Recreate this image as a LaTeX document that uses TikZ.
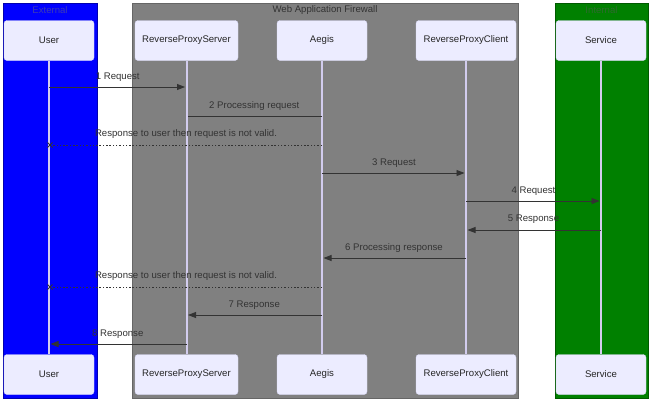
\documentclass[tikz,border=0pt]{standalone}
\usepackage{fontspec}
\setmainfont{Liberation Sans}
\usetikzlibrary{arrows.meta}
\definecolor{actfill}{HTML}{ECECFF}
\definecolor{actdraw}{HTML}{D6D6F4}
\definecolor{life}{HTML}{D2CCEE}
\definecolor{msg}{HTML}{333333}
\definecolor{extfill}{HTML}{0000FF}
\definecolor{extdraw}{HTML}{0000B0}
\definecolor{exttext}{HTML}{3C3CB4}
\definecolor{waffill}{HTML}{808080}
\definecolor{wafdraw}{HTML}{666666}
\definecolor{internfill}{HTML}{008000}
\definecolor{interndraw}{HTML}{005A00}
\definecolor{interntext}{HTML}{2F6A2F}
\tikzset{
  actor/.style={draw=actdraw, fill=actfill, rounded corners=3pt, minimum height=40pt, inner sep=0pt, font=\fontsize{9.6pt}{12pt}\selectfont, text=black!85},
  lifeline/.style={draw=life, line width=2pt},
  msgline/.style={draw=msg, line width=0.9pt, -{Triangle[length=8pt,width=6pt]}},
  plainline/.style={draw=msg, line width=0.9pt},
  dotline/.style={draw=msg, line width=0.9pt, dash pattern=on 1.5pt off 1.8pt},
  msglabel/.style={font=\fontsize{9.6pt}{12pt}\selectfont, text=msg, inner sep=0pt},
  grouplabel/.style={font=\fontsize{9.6pt}{12pt}\selectfont, inner sep=0pt},
}
\begin{document}
\begin{tikzpicture}[x=1pt,y=-1pt]
\useasboundingbox (0,0) rectangle (650,400);
\fill[white] (0,0) rectangle (650,400);
% groups
\draw[fill=extfill, draw=extdraw, line width=1pt] (3,3) rectangle (97,398);
\draw[fill=waffill, draw=wafdraw, line width=1pt] (132,3) rectangle (518,398);
\draw[fill=internfill, draw=interndraw, line width=1pt] (555,3) rectangle (648,398);
\node[grouplabel, text=exttext] (gext) at (50,10) {External};
\node[grouplabel, text=msg] (gwaf) at (325,10) {Web Application Firewall};
\node[grouplabel, text=interntext] (gint) at (601.5,10) {Internal};
% actors top
\node[actor, minimum width=90pt] (uT) at (49,40.5) {User};
\node[actor, minimum width=103pt] (sT) at (186.5,40.5) {ReverseProxyServer};
\node[actor, minimum width=90pt] (aT) at (322,40.5) {Aegis};
\node[actor, minimum width=100pt] (cT) at (466,40.5) {ReverseProxyClient};
\node[actor, minimum width=90pt] (vT) at (601,40.5) {Service};
% actors bottom
\node[actor, minimum width=90pt] (uB) at (49,374.5) {User};
\node[actor, minimum width=103pt] (sB) at (186.5,374.5) {ReverseProxyServer};
\node[actor, minimum width=90pt] (aB) at (322,374.5) {Aegis};
\node[actor, minimum width=100pt] (cB) at (466,374.5) {ReverseProxyClient};
\node[actor, minimum width=90pt] (vB) at (601,374.5) {Service};
% lifelines
\draw[lifeline] (uT.south) -- (uB.north);
\draw[lifeline] (sT.south) -- (sB.north);
\draw[lifeline] (aT.south) -- (aB.north);
\draw[lifeline] (cT.south) -- (cB.north);
\draw[lifeline] (vT.south) -- (vB.north);
% message anchors
\foreach \n/\x in {u/49,s/186.5,a/322,c/466,v/601}{
  \foreach \i/\y in {1/87,2/116,3/145,4/173,5/201,6/230,7/258,8/287,9/315,10/344}{
    \coordinate (\n\i) at (\x,\y);
  }
}
% messages
\draw[msgline] (u1) -- ([xshift=-1.5pt]s1);
\node[msglabel] (l1) at (117.75,77) {1 Request};
\draw[plainline] (a2) -- ([xshift=1pt]s2);
\node[msglabel] (l2) at (254.25,106) {2 Processing request};
\draw[dotline] (a3) -- ([xshift=1pt]u3);
\draw[msg, line width=0.8pt] ([xshift=-1.5pt,yshift=-2.5pt]u3) -- ([xshift=3.5pt,yshift=2.5pt]u3)
  ([xshift=-1.5pt,yshift=2.5pt]u3) -- ([xshift=3.5pt,yshift=-2.5pt]u3);
\node[msglabel] (l3) at (186,134.5) {Response to user then request is not valid.};
\draw[msgline] (a4) -- ([xshift=-1.5pt]c4);
\node[msglabel] (l4) at (394,163) {3 Request};
\draw[msgline] (c5) -- ([xshift=-1.5pt]v5);
\node[msglabel] (l5) at (533.5,191) {4 Request};
\draw[msgline] (v6) -- ([xshift=1.5pt]c6);
\node[msglabel] (l6) at (533.5,219.5) {5 Response};
\draw[msgline] (c7) -- ([xshift=1.5pt]a7);
\node[msglabel] (l7) at (394,248) {6 Processing response};
\draw[dotline] (a8) -- ([xshift=1pt]u8);
\draw[msg, line width=0.8pt] ([xshift=-1.5pt,yshift=-2.5pt]u8) -- ([xshift=3.5pt,yshift=2.5pt]u8)
  ([xshift=-1.5pt,yshift=2.5pt]u8) -- ([xshift=3.5pt,yshift=-2.5pt]u8);
\node[msglabel] (l8) at (186,276.5) {Response to user then request is not valid.};
\draw[msgline] (a9) -- ([xshift=1.5pt]s9);
\node[msglabel] (l9) at (254.25,305) {7 Response};
\draw[msgline] (s10) -- ([xshift=1.5pt]u10);
\node[msglabel] (l10) at (117.75,334) {8 Response};
\end{tikzpicture}
\end{document}
